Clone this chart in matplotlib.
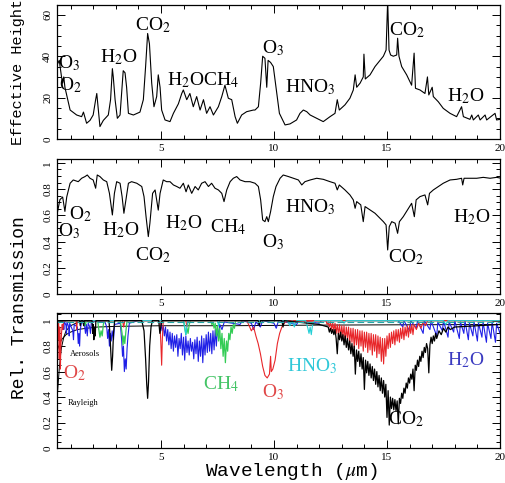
import numpy as np
import matplotlib
matplotlib.use("Agg")
import matplotlib.pyplot as plt
from matplotlib.ticker import MultipleLocator, FuncFormatter

plt.rcParams['font.family'] = ['Liberation Serif', 'DejaVu Serif']
plt.rcParams['mathtext.fontset'] = 'stix'

# ---- panel 1: effective height ----
height_wl = [0.41, 0.5, 0.6, 0.65, 0.7, 0.75, 0.98, 1.27, 1.49, 1.57, 1.71, 1.86, 2.0, 2.11, 2.16, 2.23, 2.3,
             2.45, 2.67, 2.77, 2.85, 2.89, 2.97, 3.07, 3.19, 3.28, 3.33, 3.41, 3.48, 3.56, 3.78, 4.07, 4.22,
             4.32, 4.41, 4.49, 4.59, 4.69, 4.81, 4.88, 4.96, 5.03, 5.18, 5.4, 5.55, 5.77, 5.92, 5.99, 6.14,
             6.28, 6.43, 6.58, 6.73, 6.88, 7.02, 7.17, 7.32, 7.54, 7.69, 7.83, 7.98, 8.13, 8.28, 8.38, 8.57,
             8.79, 9.09, 9.16, 9.31, 9.41, 9.5, 9.6, 9.68, 9.74, 9.85, 9.97, 10.09, 10.24, 10.49, 10.71, 11.0,
             11.15, 11.3, 11.45, 11.6, 11.89, 12.18, 12.48, 12.7, 12.8, 12.89, 13.14, 13.36, 13.51, 13.59,
             13.66, 13.81, 13.95, 13.98, 14.04, 14.25, 14.47, 14.69, 14.84, 14.96, 15.03, 15.09, 15.16, 15.28,
             15.43, 15.47, 15.53, 15.65, 15.87, 16.09, 16.2, 16.26, 16.46, 16.68, 16.79, 16.85, 17.0, 17.05,
             17.27, 17.49, 17.79, 18.08, 18.3, 18.38, 18.67, 18.75, 18.82, 19.04, 19.12, 19.34, 19.41, 19.78,
             19.85, 20.0]
height = [36, 38, 30, 27, 30, 25, 14, 11.6, 10.8, 13, 7.6, 9, 11.6, 19, 22, 14, 6,
          9, 11.6, 19, 34, 30, 19, 10, 11.6, 25, 33, 32, 25, 12.4, 11.6, 13, 19,
          35, 51, 46, 27, 15.6, 20.5, 31, 25, 14, 9.2, 8.4, 12.4, 17, 22, 23.7, 19,
          22, 15.6, 20.5, 14, 19, 12.4, 15.6, 11.6, 15.6, 20.5, 26, 19.7, 19, 10.8, 7.6, 11.6,
          13.2, 14, 14, 15.6, 27, 40, 39, 25, 38, 37, 35, 25, 12.4, 6.8, 7.3, 9.2,
          12.4, 14, 13.2, 11.6, 10, 8.4, 10.8, 12.4, 19, 14, 16.5, 19.7, 23.7, 31,
          25, 27, 30, 41, 29, 31, 35, 38, 40, 43, 67, 43, 40.6, 40,
          40.6, 48.7, 40, 35, 31, 26, 41.5, 24.5, 23.7, 22, 30, 21.3, 25, 20.5,
          18, 14.8, 12.4, 10.8, 15.6, 10.8, 9.5, 11.6, 9.2, 11.6, 9.2, 11.6, 9.2, 12.4,
          9.2, 9.5]

# ---- panel 2: transmission ----
trans_wl = [0.41, 0.53, 0.65, 0.75, 0.83, 0.98, 1.12, 1.34, 1.49, 1.64, 1.74, 1.86, 2.0, 2.11, 2.18, 2.3,
            2.45, 2.6, 2.72, 2.85, 2.94, 3.04, 3.19, 3.28, 3.36, 3.45, 3.56, 3.7, 3.93, 4.15, 4.25, 4.34,
            4.44, 4.51, 4.63, 4.74, 4.81, 4.88, 4.96, 5.1, 5.25, 5.4, 5.55, 5.7, 5.84, 5.99, 6.11, 6.21,
            6.36, 6.51, 6.65, 6.8, 6.95, 7.1, 7.24, 7.39, 7.54, 7.69, 7.79, 7.91, 8.06, 8.2, 8.35, 8.5,
            8.72, 8.94, 9.16, 9.31, 9.41, 9.5, 9.6, 9.68, 9.75, 9.85, 9.97, 10.09, 10.27, 10.41, 10.64,
            10.86, 11.08, 11.23, 11.37, 11.6, 11.89, 12.18, 12.48, 12.7, 12.8, 12.89, 13.14, 13.36, 13.51,
            13.59, 13.66, 13.84, 13.95, 14.03, 14.25, 14.47, 14.69, 14.84, 14.96, 15.03, 15.1, 15.21, 15.36,
            15.47, 15.55, 15.72, 15.95, 16.09, 16.21, 16.29, 16.46, 16.68, 16.8, 16.88, 17.05, 17.27, 17.49,
            17.79, 18.08, 18.3, 18.35, 18.41, 18.67, 18.97, 19.26, 19.56, 19.85, 20.0]
trans = [0.616, 0.72, 0.74, 0.63, 0.74, 0.845, 0.87, 0.857, 0.883, 0.896, 0.908, 0.883, 0.87, 0.807, 0.908, 0.896,
         0.87, 0.857, 0.768, 0.603, 0.768, 0.857, 0.845, 0.743, 0.616, 0.718, 0.845, 0.857, 0.845, 0.82, 0.743, 0.59,
         0.438, 0.54, 0.768, 0.794, 0.718, 0.64, 0.768, 0.87, 0.857, 0.857, 0.832, 0.82, 0.807, 0.845, 0.78, 0.832,
         0.768, 0.82, 0.794, 0.845, 0.857, 0.82, 0.845, 0.807, 0.794, 0.768, 0.705, 0.794, 0.857, 0.883, 0.896, 0.87,
         0.857, 0.857, 0.845, 0.82, 0.718, 0.565, 0.552, 0.59, 0.552, 0.628, 0.743, 0.82, 0.883, 0.908, 0.896,
         0.883, 0.87, 0.832, 0.857, 0.87, 0.883, 0.875, 0.857, 0.845, 0.794, 0.832, 0.794, 0.756, 0.718,
         0.654, 0.705, 0.68, 0.552, 0.667, 0.641, 0.616, 0.578, 0.552, 0.527, 0.336, 0.514, 0.552, 0.54,
         0.463, 0.552, 0.59, 0.654, 0.692, 0.59, 0.718, 0.743, 0.756, 0.68, 0.768, 0.794, 0.82, 0.845,
         0.87, 0.875, 0.883, 0.832, 0.883, 0.883, 0.883, 0.89, 0.883, 0.89, 0.885]

# ---- panel 3: individual species ----
co2_wl = [0.4, 1.4, 1.43, 1.46, 1.55, 1.58, 1.61, 1.95, 1.98, 2.0, 2.03, 2.06, 2.09, 2.12, 2.7, 2.74, 2.78, 2.82,
          2.86, 2.9, 2.95, 4.15, 4.25, 4.32, 4.37, 4.41, 4.45, 4.5, 4.56, 4.62, 4.9, 4.95, 5.0, 5.05, 9.3, 9.35,
          9.4, 10.35, 10.4, 10.45, 11.5, 12.0, 12.2,
          12.40, 12.45, 12.50, 12.55, 12.60, 12.65, 12.70, 12.75, 12.80, 12.85, 12.90, 12.95, 13.00, 13.05,
          13.10, 13.15, 13.20, 13.25, 13.30, 13.35, 13.40, 13.45, 13.50, 13.55, 13.60, 13.65, 13.70, 13.75,
          13.80, 13.85, 13.90, 13.95, 14.00, 14.05, 14.10, 14.15, 14.20, 14.25, 14.30, 14.35, 14.40, 14.45,
          14.50, 14.55, 14.60, 14.65, 14.70, 14.75, 14.80, 14.85, 14.90, 14.95, 15.00, 15.05, 15.10, 15.15,
          15.20, 15.25, 15.30, 15.35, 15.40, 15.45, 15.50, 15.55, 15.60, 15.65, 15.70, 15.75, 15.80, 15.85,
          15.90, 15.95, 16.00, 16.05, 16.10, 16.15, 16.20, 16.25, 16.30, 16.35, 16.40, 16.45, 16.50, 16.55,
          16.60, 16.65, 16.70, 16.75, 16.80, 16.85, 16.90, 16.95, 17.00, 17.05, 17.10, 17.15, 17.20, 17.30,
          17.40, 17.50, 17.60, 17.70, 17.80, 18.0, 18.5, 19.0, 19.5, 20.0]
co2 = [1.0, 1.0, 0.96, 1.0, 1.0, 0.96, 1.0, 1.0, 0.9, 0.97, 0.85, 0.95, 0.88, 1.0, 1.0, 0.9, 0.75, 0.61,
       0.72, 0.9, 1.0, 1.0, 0.92, 0.7, 0.5, 0.39, 0.52, 0.8, 0.95, 1.0, 1.0, 0.9, 0.96, 1.0, 1.0, 0.96,
       1.0, 1.0, 0.95, 1.0, 0.98, 0.97, 0.96,
       0.95, 0.91, 0.94, 0.90, 0.93, 0.89, 0.93, 0.86, 0.74, 0.90, 0.85, 0.91, 0.84, 0.89,
       0.81, 0.88, 0.79, 0.86, 0.77, 0.84, 0.74, 0.82, 0.72, 0.80, 0.58, 0.77, 0.68, 0.76,
       0.64, 0.74, 0.62, 0.71, 0.46, 0.69, 0.59, 0.68, 0.57, 0.66, 0.55, 0.64, 0.53, 0.62,
       0.50, 0.60, 0.48, 0.57, 0.45, 0.55, 0.43, 0.53, 0.40, 0.50, 0.24, 0.45, 0.18, 0.40,
       0.31, 0.39, 0.30, 0.38, 0.29, 0.37, 0.19, 0.39, 0.35, 0.43, 0.39, 0.47, 0.43, 0.51,
       0.47, 0.55, 0.51, 0.58, 0.54, 0.62, 0.45, 0.65, 0.61, 0.69, 0.64, 0.72, 0.68, 0.76,
       0.71, 0.79, 0.75, 0.82, 0.78, 0.59, 0.81, 0.87, 0.82, 0.88, 0.84, 0.90, 0.86, 0.92,
       0.89, 0.94, 0.91, 0.95, 0.93, 0.95, 0.955, 0.96, 0.965, 0.97]

h2o_wl = [0.4, 0.68, 0.7, 0.72, 0.8, 0.82, 0.84, 0.92, 0.94, 0.96, 1.1, 1.13, 1.16, 1.3, 1.34, 1.37, 1.4, 1.43,
          1.5, 1.62, 1.66, 1.7, 1.74, 1.78, 1.85, 1.88, 1.92, 2.5, 2.6, 2.64, 2.68, 2.72, 2.76, 2.8, 2.84, 2.9,
          2.95, 3.2, 3.26, 3.3, 3.34, 3.38, 3.42, 3.46, 3.5, 3.54, 3.6, 4.0, 4.9,
          5.00, 5.05, 5.10, 5.15, 5.20, 5.25, 5.30, 5.35, 5.40, 5.45, 5.50, 5.55, 5.60, 5.65, 5.70, 5.75,
          5.80, 5.85, 5.90, 5.95, 6.00, 6.05, 6.10, 6.15, 6.20, 6.25, 6.30, 6.35, 6.40, 6.45, 6.50, 6.55,
          6.60, 6.65, 6.70, 6.75, 6.80, 6.85, 6.90, 6.95, 7.00, 7.05, 7.10, 7.15, 7.20, 7.25, 7.30, 7.35,
          7.40, 7.45, 7.50, 7.55, 7.60, 7.70, 7.80,
          8.5, 8.6, 9.0, 9.1, 9.2, 9.4, 9.5, 10.0,
          10.1, 10.2, 11.0, 11.1, 12.0, 12.1, 15.5, 15.7, 15.75, 16.0, 16.05, 16.3, 16.35, 16.6, 16.65, 16.9,
          16.95, 17.2, 17.25, 17.45, 17.5, 17.7, 17.75, 17.95, 18.0, 18.2, 18.25, 18.4, 18.45, 18.6, 18.65,
          18.8, 18.85, 19.0, 19.05, 19.2, 19.25, 19.4, 19.45, 19.6, 19.65, 19.8, 19.85, 20.0]
h2o = [1.0, 1.0, 0.93, 1.0, 0.96, 0.9, 0.99, 0.95, 0.88, 0.98, 0.92, 0.85, 0.97, 0.95, 0.82, 0.9, 0.8, 0.93,
       1.0, 0.96, 0.9, 0.97, 0.88, 0.98, 0.95, 0.9, 0.99, 1.0, 0.95, 0.86, 0.93, 0.8, 0.9, 0.84, 0.92, 0.85,
       0.97, 0.98, 0.85, 0.72, 0.8, 0.6, 0.7, 0.62, 0.78, 0.88, 0.98, 1.0, 1.0,
       0.97, 0.92, 0.96, 0.88, 0.95, 0.84, 0.93, 0.81, 0.91, 0.78, 0.90, 0.76, 0.88, 0.79, 0.89, 0.72,
       0.86, 0.78, 0.90, 0.73, 0.87, 0.69, 0.88, 0.75, 0.84, 0.73, 0.86, 0.76, 0.83, 0.70, 0.85, 0.74,
       0.87, 0.68, 0.84, 0.72, 0.88, 0.67, 0.86, 0.73, 0.89, 0.75, 0.91, 0.76, 0.90, 0.74, 0.92, 0.77,
       0.93, 0.80, 0.95, 0.86, 0.97, 0.93, 0.99,
       0.97, 1.0, 0.98, 0.93, 0.99, 0.95, 1.0, 0.98,
       0.94, 1.0, 0.97, 1.0, 0.98, 1.0, 1.0, 0.95, 1.0, 0.92, 1.0, 0.94, 1.0, 0.9, 1.0, 0.93,
       1.0, 0.88, 0.99, 0.92, 1.0, 0.87, 0.99, 0.91, 1.0, 0.86, 0.99, 0.9, 1.0, 0.85, 0.98,
       0.88, 0.99, 0.84, 0.98, 0.87, 0.99, 0.83, 0.98, 0.86, 0.99, 0.83, 0.98, 0.9]

ch4_wl = [0.4, 1.6, 1.65, 1.7, 2.2, 2.25, 2.3, 2.35, 2.4, 2.45, 2.5, 3.2, 3.28, 3.32, 3.36, 3.4, 3.45, 3.5,
          6.0, 6.05, 6.1, 6.15, 6.2, 6.25, 6.3,
          7.20, 7.25, 7.30, 7.35, 7.40, 7.45, 7.50, 7.55, 7.60, 7.65, 7.70, 7.75, 7.80, 7.85, 7.90, 7.95,
          8.00, 8.05, 8.10, 8.15, 8.20, 8.25, 8.30, 20.0]
ch4 = [1.0, 1.0, 0.96, 1.0, 1.0, 0.93, 0.87, 0.92, 0.88, 0.97, 1.0, 1.0, 0.9, 0.81, 0.88, 0.82, 0.92, 1.0,
       1.0, 0.95, 0.89, 0.94, 0.9, 0.97, 1.0,
       1.0, 0.97, 0.99, 0.94, 0.98, 0.88, 0.96, 0.84, 0.94, 0.78, 0.9, 0.72, 0.86, 0.67, 0.84, 0.76,
       0.9, 0.85, 0.95, 0.9, 0.97, 0.94, 1.0, 1.0]

o2_wl = [0.4, 0.45, 0.47, 0.5, 0.52, 0.55, 0.57, 0.6, 0.63, 0.66, 0.7, 1.25, 1.27, 1.3, 20.0]
o2 = [1.0, 0.85, 0.98, 0.7, 0.95, 0.62, 0.8, 0.9, 0.97, 0.93, 1.0, 1.0, 0.93, 1.0, 1.0]

o3_wl = [0.4, 3.3, 3.35, 3.4, 4.95, 5.0, 5.03, 5.06, 5.1, 6.1, 6.15, 6.2, 8.8, 8.9, 9.0, 9.1, 9.2, 9.3, 9.4,
         9.5, 9.6, 9.7, 9.8, 9.85, 9.88, 9.95, 10.05, 10.15, 10.25, 10.35, 10.5,
         12.30, 12.35, 12.40, 12.45, 12.50, 12.55, 12.60, 12.65, 12.70, 12.75, 12.80, 12.85, 12.90, 12.95,
         13.00, 13.05, 13.10, 13.15, 13.20, 13.25, 13.30, 13.35, 13.40, 13.45, 13.50, 13.55, 13.60, 13.65,
         13.70, 13.75, 13.80, 13.85, 13.90, 13.95, 14.00, 14.05, 14.10, 14.15, 14.20, 14.25, 14.30, 14.35,
         14.40, 14.45, 14.50, 14.55, 14.60, 14.65, 14.70, 14.75, 14.80, 14.85, 14.90, 14.95, 15.00, 15.05,
         15.10, 15.15, 15.20, 15.25, 15.30, 15.35, 15.40, 15.45, 15.50, 15.55, 15.60, 15.65, 15.70, 15.75,
         15.80, 15.85, 15.90, 15.95, 16.00, 16.05, 16.10, 16.15, 16.20, 16.30, 16.40, 16.50, 16.60, 16.70,
         16.80, 17.0, 20.0]
o3 = [1.0, 1.0, 0.95, 1.0, 1.0, 0.8, 0.65, 0.85, 1.0, 1.0, 0.95, 1.0, 1.0, 0.96, 0.92, 0.95, 0.88, 0.82, 0.74,
      0.64, 0.57, 0.55, 0.58, 0.72, 0.6, 0.62, 0.69, 0.82, 0.9, 0.95, 0.99,
      1.0, 0.97, 0.99, 0.95, 0.99, 0.93, 0.98, 0.92, 0.98, 0.9, 0.97, 0.89, 0.97, 0.87,
      0.96, 0.88, 0.96, 0.84, 0.95, 0.86, 0.95, 0.82, 0.94, 0.83, 0.94, 0.79, 0.93, 0.81,
      0.93, 0.78, 0.92, 0.80, 0.92, 0.76, 0.91, 0.79, 0.91, 0.75, 0.90, 0.77, 0.90, 0.73,
      0.89, 0.76, 0.89, 0.71, 0.88, 0.74, 0.87, 0.68, 0.86, 0.66, 0.86, 0.72, 0.88, 0.78,
      0.90, 0.79, 0.91, 0.82, 0.92, 0.81, 0.93, 0.84, 0.93, 0.83, 0.94, 0.86, 0.95, 0.85,
      0.95, 0.88, 0.96, 0.87, 0.96, 0.9, 0.97, 0.89, 0.97, 0.93, 0.98, 0.94, 0.99, 0.96,
      1.0, 1.0, 1.0]

hno3_wl = [0.4, 6.0, 6.05, 6.1, 6.15, 6.2, 7.5, 7.55, 7.6, 10.6, 10.7, 10.8, 10.9, 11.0, 11.4, 11.5, 11.55,
           11.6, 11.65, 11.7, 11.8, 13.0, 13.1, 13.2, 17.5, 17.6, 17.7, 20.0]
hno3 = [1.0, 1.0, 0.94, 0.89, 0.96, 1.0, 1.0, 0.96, 1.0, 1.0, 0.96, 1.0, 0.95, 1.0, 1.0, 0.94, 0.9,
        0.95, 0.89, 0.96, 1.0, 1.0, 0.98, 1.0, 1.0, 0.97, 1.0, 1.0]

aer_wl = [0.4, 0.5, 0.6, 0.8, 1.0, 1.3, 1.7, 2.2, 3.0, 5.0, 8.0, 12.0, 20.0]
aer = [0.76, 0.81, 0.85, 0.89, 0.91, 0.93, 0.94, 0.95, 0.955, 0.96, 0.96, 0.965, 0.97]

ray_wl = [0.4, 0.45, 0.5, 0.55, 0.6, 0.7, 0.8, 1.0, 1.3, 1.8, 3.0]
ray = [0.38, 0.5, 0.62, 0.72, 0.79, 0.87, 0.92, 0.96, 0.985, 0.995, 1.0]

RED = '#e8262a'
GREEN = '#33cc55'
BLUE = '#1f1fe6'
CYAN = '#22cfd6'

W, H = 506, 483
fig = plt.figure(figsize=(W / 100, H / 100), dpi=100)
left, width = 57 / W, 443 / W
ax1 = fig.add_axes([left, 1 - 139 / H, width, 134.5 / H])
ax2 = fig.add_axes([left, 1 - 294 / H, width, 135 / H])
ax3 = fig.add_axes([left, 1 - 448 / H, width, 135 / H])

fmt = FuncFormatter(lambda v, p: '%g' % v)
for ax in (ax1, ax2, ax3):
    ax.set_xlim(0.4, 20)
    ax.xaxis.set_major_locator(MultipleLocator(5))
    ax.xaxis.set_minor_locator(MultipleLocator(1))
    ax.tick_params(which='both', direction='in', top=True, right=True, labelsize=8, width=0.7)
    ax.tick_params(which='major', length=6)
    ax.tick_params(which='minor', length=3)
    for s in ax.spines.values():
        s.set_linewidth(0.9)
    ax.yaxis.set_major_formatter(fmt)

ax1.set_ylim(0, 65)
ax1.yaxis.set_major_locator(MultipleLocator(20))
ax1.yaxis.set_minor_locator(MultipleLocator(5))
for ax in (ax2, ax3):
    ax.yaxis.set_major_locator(MultipleLocator(0.2))
    ax.yaxis.set_minor_locator(MultipleLocator(0.05))
ax2.set_ylim(0, 1.03)
ax3.set_ylim(0, 1.06)

for ax in (ax1, ax2, ax3):
    plt.setp(ax.get_yticklabels(), rotation=90, va='center')

ax1.plot(height_wl, height, color='black', lw=0.8)
ax2.plot(trans_wl, trans, color='black', lw=0.8)

ax3.plot(aer_wl, aer, color='black', lw=0.7)
ax3.plot(ray_wl, ray, color='black', lw=0.7)
ax3.plot(h2o_wl, h2o, color=BLUE, lw=0.8)
ax3.plot(ch4_wl, ch4, color=GREEN, lw=0.9)
ax3.plot(o2_wl, o2, color=RED, lw=0.8)
ax3.plot(o3_wl, o3, color=RED, lw=0.8)
ax3.plot(hno3_wl, hno3, color=CYAN, lw=0.8)
ax3.plot(co2_wl, co2, color='black', lw=0.9)
ax3.axhline(0.99, color='#20a8a8', lw=0.8, ls=(0, (6, 3)))

fs = 14
def lbl(ax, x, y, s, c='black', size=fs):
    ax.text(x, y, s, color=c, fontsize=size, ha='left', va='baseline')

lbl(ax1, 0.45, 34.3, r'O$_3$')
lbl(ax1, 0.5, 23.7, r'O$_2$')
lbl(ax1, 2.3, 37.3, r'H$_2$O')
lbl(ax1, 3.85, 52.7, r'CO$_2$')
lbl(ax1, 5.27, 26, r'H$_2$OCH$_4$')
lbl(ax1, 9.47, 41.5, r'O$_3$')
lbl(ax1, 10.49, 22.7, r'HNO$_3$')
lbl(ax1, 15.09, 50, r'CO$_2$')
lbl(ax1, 17.66, 18, r'H$_2$O')

lbl(ax2, 0.95, 0.57, r'O$_2$')
lbl(ax2, 0.44, 0.44, r'O$_3$')
lbl(ax2, 2.39, 0.45, r'H$_2$O')
lbl(ax2, 3.85, 0.26, r'CO$_2$')
lbl(ax2, 5.18, 0.5, r'H$_2$O')
lbl(ax2, 7.17, 0.47, r'CH$_4$')
lbl(ax2, 9.47, 0.36, r'O$_3$')
lbl(ax2, 10.49, 0.62, r'HNO$_3$')
lbl(ax2, 15.05, 0.24, r'CO$_2$')
lbl(ax2, 17.92, 0.55, r'H$_2$O')

lbl(ax3, 0.67, 0.55, r'O$_2$', '#e04848')
lbl(ax3, 6.86, 0.46, r'CH$_4$', '#44c466')
lbl(ax3, 9.47, 0.4, r'O$_3$', '#e04848')
lbl(ax3, 10.58, 0.6, r'HNO$_3$', '#30c8d8')
lbl(ax3, 15.05, 0.19, r'CO$_2$')
lbl(ax3, 17.66, 0.65, r'H$_2$O', '#3a3ac0')
lbl(ax3, 0.98, 0.72, 'Aerosols', size=6)
lbl(ax3, 0.89, 0.34, 'Rayleigh', size=6)

mono = ['Liberation Mono', 'DejaVu Sans Mono']
fig.text(18 / W, 1 - 72 / H, 'Effective Height', rotation=90, ha='center', va='center',
         family=mono, fontsize=11)
fig.text(20 / W, 1 - 308 / H, 'Rel. Transmission', rotation=90, ha='center', va='center',
         family=mono, fontsize=13)
fig.text(291 / W, 1 - 471 / H, r'Wavelength ($\mu$m)', ha='center', va='center',
         family=mono, fontsize=14)

fig.savefig('out.png', dpi=100)
